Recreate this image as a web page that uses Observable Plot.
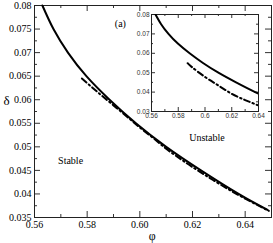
<!DOCTYPE html>
<html>
<head>
<meta charset="utf-8">
<script src="https://cdn.jsdelivr.net/npm/d3@7"></script>
<script src="https://cdn.jsdelivr.net/npm/@observablehq/plot@0.6"></script>
<style>
  body { margin: 0; background: white; }
  #wrap { position: relative; width: 273px; height: 243px; }
  #wrap svg { position: absolute; left: 0; top: 0; }
  #wrap svg.mainplot text { font-family: "Liberation Serif", "Times New Roman", serif !important; }
  #wrap svg.insetplot text { font-family: "Liberation Sans", Arial, sans-serif !important; }
</style>
</head>
<body>
<div id="wrap"></div>
<script>
// Main curves
const solidPhi   = [0.5630, 0.5672, 0.5727, 0.5797, 0.5885, 0.5985, 0.6100, 0.6232, 0.6375, 0.6485];
const solidDelta = [0.0800, 0.0750, 0.0700, 0.0650, 0.0600, 0.0550, 0.0500, 0.0450, 0.0400, 0.0366];
const dashPhi    = [0.578, 0.584, 0.590, 0.596, 0.600, 0.605, 0.610, 0.615, 0.620, 0.630, 0.640, 0.649];
const dashDelta  = [0.0645, 0.0616, 0.0588, 0.0560, 0.0541, 0.0519, 0.0496, 0.0476, 0.0457, 0.0422, 0.0390, 0.0364];
// Inset dash-dot curve
const insetDashPhi   = [0.587, 0.590, 0.600, 0.610, 0.620, 0.630, 0.640];
const insetDashDelta = [0.0549, 0.0530, 0.0478, 0.0434, 0.0391, 0.0359, 0.0331];

// Tick values and labels
const xMajor = [0.56, 0.58, 0.60, 0.62, 0.64];
const xLabels = ["0.56", "0.58", "0.60", "0.62", "0.64"];
const xMinor = [0.57, 0.59, 0.61, 0.63];
const yMajor = [0.035, 0.04, 0.045, 0.05, 0.055, 0.06, 0.065, 0.07, 0.075, 0.08];
const yLabels = ["0.035", "0.04", "0.045", "0.05", "0.055", "0.06", "0.065", "0.07", "0.075", "0.08"];
const yMinor = [0.0375, 0.0425, 0.0475, 0.0525, 0.0575, 0.0625, 0.0675, 0.0725, 0.0775];

const ixMajor = [0.56, 0.58, 0.60, 0.62, 0.64];
const ixLabels = ["0.56", "0.58", "0.6", "0.62", "0.64"];
const ixMinor = [0.57, 0.59, 0.61, 0.63];
const iyMajor = [0.03, 0.04, 0.05, 0.06, 0.07, 0.08];
const iyLabels = ["0.03", "0.04", "0.05", "0.06", "0.07", "0.08"];
const iyMinor = [0.035, 0.045, 0.055, 0.065, 0.075];

const annotations = [
  {phi: 0.5737, delta: 0.0471, text: "Stable"},
  {phi: 0.6255, delta: 0.0519, text: "Unstable"},
  {phi: 0.5926, delta: 0.0762, text: "(a)"}
];

const solid = solidPhi.map((p, i) => ({phi: p, delta: solidDelta[i]}));
const dash = dashPhi.map((p, i) => ({phi: p, delta: dashDelta[i]}));
const insetDash = insetDashPhi.map((p, i) => ({phi: p, delta: insetDashDelta[i]}));

const W = 273, H = 243;
const mL = 34, mR = 2, mT = 5, mB = 26;
const pw = W - mL - mR, ph = H - mT - mB;

const fmt = (vals, labs) => d => labs[vals.findIndex(v => Math.abs(v - d) < 1e-9)];
const tickCol = "#333";
const serif = "Liberation Serif";
const sans = "Liberation Sans";

function ticks(xMaj, xMin, yMaj, yMin, pw, ph, big, small) {
  return [
    Plot.tickX(xMaj, {x: d => d, insetTop: ph - big, stroke: tickCol}),
    Plot.tickX(xMaj, {x: d => d, insetBottom: ph - big, stroke: tickCol}),
    Plot.tickX(xMin, {x: d => d, insetTop: ph - small, stroke: tickCol}),
    Plot.tickX(xMin, {x: d => d, insetBottom: ph - small, stroke: tickCol}),
    Plot.tickY(yMaj, {y: d => d, insetRight: pw - big, stroke: tickCol}),
    Plot.tickY(yMaj, {y: d => d, insetLeft: pw - big, stroke: tickCol}),
    Plot.tickY(yMin, {y: d => d, insetRight: pw - small, stroke: tickCol}),
    Plot.tickY(yMin, {y: d => d, insetLeft: pw - small, stroke: tickCol})
  ];
}

const main = Plot.plot({
  className: "mainplot",
  width: W, height: H,
  marginLeft: mL, marginRight: mR, marginTop: mT, marginBottom: mB,
  x: {domain: [0.56, 0.65]},
  y: {domain: [0.035, 0.08]},
  style: {fontFamily: serif, fontSize: "10px", color: "black", background: "white"},
  marks: [
    ...ticks(xMajor, xMinor, yMajor, yMinor, pw, ph, 6, 3),
    Plot.frame({stroke: "#222"}),
    Plot.axisX({ticks: xMajor, tickFormat: fmt(xMajor, xLabels), tickSize: 0, tickPadding: 3, label: null, fontFamily: serif, fontSize: 10}),
    Plot.axisY({ticks: yMajor, tickFormat: fmt(yMajor, yLabels), tickSize: 0, tickPadding: 3, label: null, fontFamily: serif, fontSize: 10}),
    Plot.line(solid, {x: "phi", y: "delta", curve: "natural", stroke: "black", strokeWidth: 2}),
    Plot.line(dash, {x: "phi", y: "delta", curve: "natural", stroke: "black", strokeWidth: 2, strokeDasharray: "6,3,1.5,3"}),
    Plot.text(annotations, {x: "phi", y: "delta", text: "text", fill: "black", fontSize: 10, fontFamily: serif}),
    Plot.text(["δ"], {x: 0.5494, y: 0.0598, text: d => d, fontSize: 13, fontFamily: serif, clip: false}),
    Plot.text(["φ"], {x: 0.6047, y: 0.0310, text: d => d, fontSize: 12, fontFamily: serif, clip: false})
  ]
});

const iL = 151, iR = 15, iT = 14, iB = 132;
const ipw = W - iL - iR, iph = H - iT - iB;
const inset = Plot.plot({
  className: "insetplot",
  width: W, height: H,
  marginLeft: iL, marginRight: iR, marginTop: iT, marginBottom: iB,
  x: {domain: [0.56, 0.64]},
  y: {domain: [0.03, 0.08]},
  style: {fontFamily: sans, fontSize: "7px", color: "#333", background: "transparent"},
  marks: [
    ...ticks(ixMajor, ixMinor, iyMajor, iyMinor, ipw, iph, 4, 2),
    Plot.frame({stroke: "#222"}),
    Plot.axisX({ticks: ixMajor, tickFormat: fmt(ixMajor, ixLabels), tickSize: 0, tickPadding: 2, label: null, fontFamily: sans, fontSize: 6.5}),
    Plot.axisY({ticks: iyMajor, tickFormat: fmt(iyMajor, iyLabels), tickSize: 0, tickPadding: 2, label: null, fontFamily: sans, fontSize: 6.5}),
    Plot.line(solid, {x: "phi", y: "delta", curve: "natural", stroke: "black", strokeWidth: 2, clip: true}),
    Plot.line(insetDash, {x: "phi", y: "delta", curve: "natural", stroke: "black", strokeWidth: 2, strokeDasharray: "6,3,1.5,3", clip: true})
  ]
});

const wrap = document.getElementById("wrap");
wrap.appendChild(main);
wrap.appendChild(inset);
</script>
</body>
</html>
